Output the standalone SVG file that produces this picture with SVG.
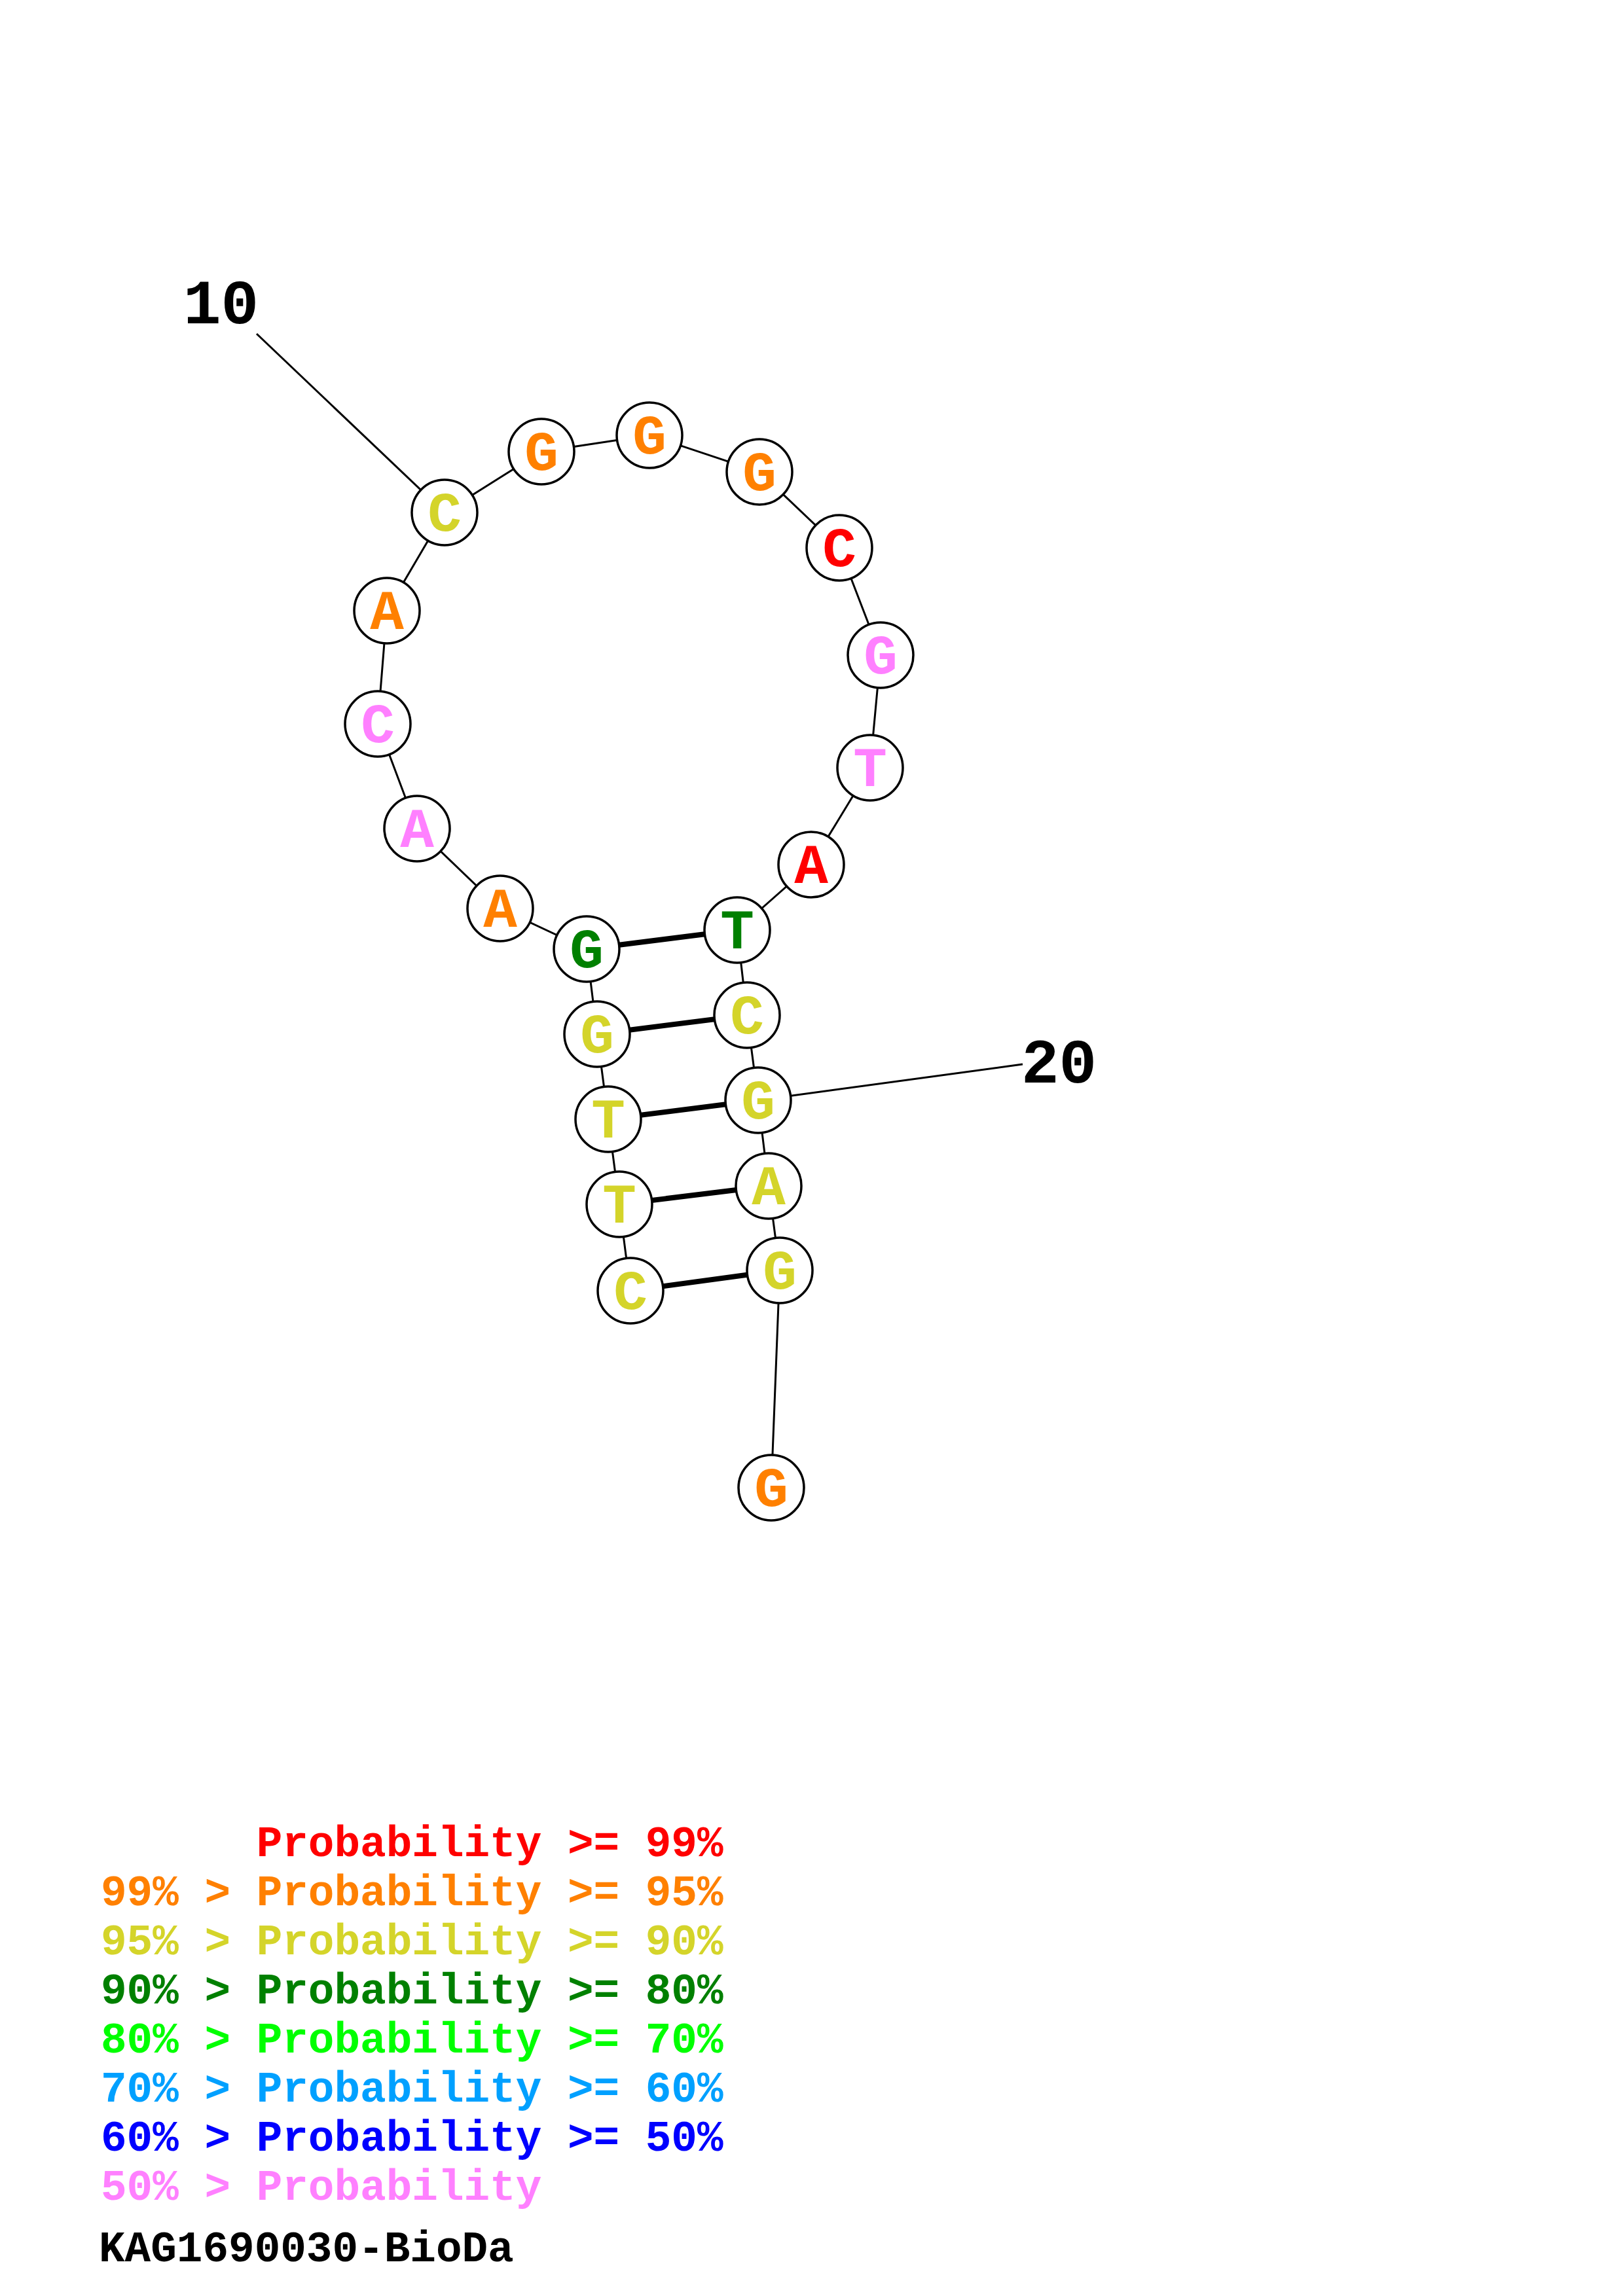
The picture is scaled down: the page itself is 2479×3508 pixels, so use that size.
<svg xmlns="http://www.w3.org/2000/svg" width="2479" height="3508" viewBox="0 0 2479 3508">
<style>
.bb{stroke:#000;stroke-width:3;fill:none}
.pr{stroke:#000;stroke-width:8;fill:none}
.nd circle{fill:#fff;stroke:#000;stroke-width:3.5}
.nd text{font-family:"Liberation Mono","Courier New",monospace;font-weight:bold;font-size:86px;text-anchor:middle}
.num{font-family:"Liberation Mono","Courier New",monospace;font-weight:bold;font-size:96px;fill:#000}
.lg{font-family:"Liberation Mono","Courier New",monospace;font-weight:bold;font-size:66px}
.r{fill:#FF0000}.o{fill:#FF8000}.y{fill:#D4D42A}.g{fill:#008000}.l{fill:#00FF00}.s{fill:#00A0FF}.b{fill:#0000FF}.p{fill:#FF80FF}
</style>
<rect width="2479" height="3508" fill="#fff"/>
<g id="connectors">
<polyline class="bb" points="963,1972 946,1840 929,1710 912,1580 896,1450 764,1388 637,1266 577,1106 591,933 679,783 827,690 992,665 1160,721 1282,837 1345,1001 1329,1173 1239,1321 1126,1421 1141,1551 1158,1681 1174,1812 1191,1941 1178,2273"/>
<line class="pr" x1="963" y1="1972" x2="1191" y2="1941"/>
<line class="pr" x1="946" y1="1840" x2="1174" y2="1812"/>
<line class="pr" x1="929" y1="1710" x2="1158" y2="1681"/>
<line class="pr" x1="912" y1="1580" x2="1141" y2="1551"/>
<line class="pr" x1="896" y1="1450" x2="1126" y2="1421"/>
<line class="bb" x1="392" y1="510" x2="679" y2="783"/>
<line class="bb" x1="1562" y1="1626" x2="1158" y2="1681"/>
</g>
<g id="n1" class="nd"><circle cx="963" cy="1972" r="50"/><text x="963" y="2000" class="y">C</text></g>
<g id="n2" class="nd"><circle cx="946" cy="1840" r="50"/><text x="946" y="1868" class="y">T</text></g>
<g id="n3" class="nd"><circle cx="929" cy="1710" r="50"/><text x="929" y="1738" class="y">T</text></g>
<g id="n4" class="nd"><circle cx="912" cy="1580" r="50"/><text x="912" y="1608" class="y">G</text></g>
<g id="n5" class="nd"><circle cx="896" cy="1450" r="50"/><text x="896" y="1478" class="g">G</text></g>
<g id="n6" class="nd"><circle cx="764" cy="1388" r="50"/><text x="764" y="1416" class="o">A</text></g>
<g id="n7" class="nd"><circle cx="637" cy="1266" r="50"/><text x="637" y="1294" class="p">A</text></g>
<g id="n8" class="nd"><circle cx="577" cy="1106" r="50"/><text x="577" y="1134" class="p">C</text></g>
<g id="n9" class="nd"><circle cx="591" cy="933" r="50"/><text x="591" y="961" class="o">A</text></g>
<g id="n10" class="nd"><circle cx="679" cy="783" r="50"/><text x="679" y="811" class="y">C</text></g>
<g id="n11" class="nd"><circle cx="827" cy="690" r="50"/><text x="827" y="718" class="o">G</text></g>
<g id="n12" class="nd"><circle cx="992" cy="665" r="50"/><text x="992" y="693" class="o">G</text></g>
<g id="n13" class="nd"><circle cx="1160" cy="721" r="50"/><text x="1160" y="749" class="o">G</text></g>
<g id="n14" class="nd"><circle cx="1282" cy="837" r="50"/><text x="1282" y="865" class="r">C</text></g>
<g id="n15" class="nd"><circle cx="1345" cy="1001" r="50"/><text x="1345" y="1029" class="p">G</text></g>
<g id="n16" class="nd"><circle cx="1329" cy="1173" r="50"/><text x="1329" y="1201" class="p">T</text></g>
<g id="n17" class="nd"><circle cx="1239" cy="1321" r="50"/><text x="1239" y="1349" class="r">A</text></g>
<g id="n18" class="nd"><circle cx="1126" cy="1421" r="50"/><text x="1126" y="1449" class="g">T</text></g>
<g id="n19" class="nd"><circle cx="1141" cy="1551" r="50"/><text x="1141" y="1579" class="y">C</text></g>
<g id="n20" class="nd"><circle cx="1158" cy="1681" r="50"/><text x="1158" y="1709" class="y">G</text></g>
<g id="n21" class="nd"><circle cx="1174" cy="1812" r="50"/><text x="1174" y="1840" class="y">A</text></g>
<g id="n22" class="nd"><circle cx="1191" cy="1941" r="50"/><text x="1191" y="1969" class="y">G</text></g>
<g id="n23" class="nd"><circle cx="1178" cy="2273" r="50"/><text x="1178" y="2301" class="o">G</text></g>
<g id="labels">
<text class="num" x="280" y="494">10</text>
<text class="num" x="1560" y="1654">20</text>
</g>
<g id="legend">
<text class="lg r" x="154" y="2836" xml:space="preserve">      Probability &gt;= 99%</text>
<text class="lg o" x="154" y="2911">99% &gt; Probability &gt;= 95%</text>
<text class="lg y" x="154" y="2986">95% &gt; Probability &gt;= 90%</text>
<text class="lg g" x="154" y="3061">90% &gt; Probability &gt;= 80%</text>
<text class="lg l" x="154" y="3136">80% &gt; Probability &gt;= 70%</text>
<text class="lg s" x="154" y="3211">70% &gt; Probability &gt;= 60%</text>
<text class="lg b" x="154" y="3286">60% &gt; Probability &gt;= 50%</text>
<text class="lg p" x="154" y="3361">50% &gt; Probability</text>
<text class="lg" x="151" y="3455" fill="#000">KAG1690030-BioDa</text>
</g>
</svg>
